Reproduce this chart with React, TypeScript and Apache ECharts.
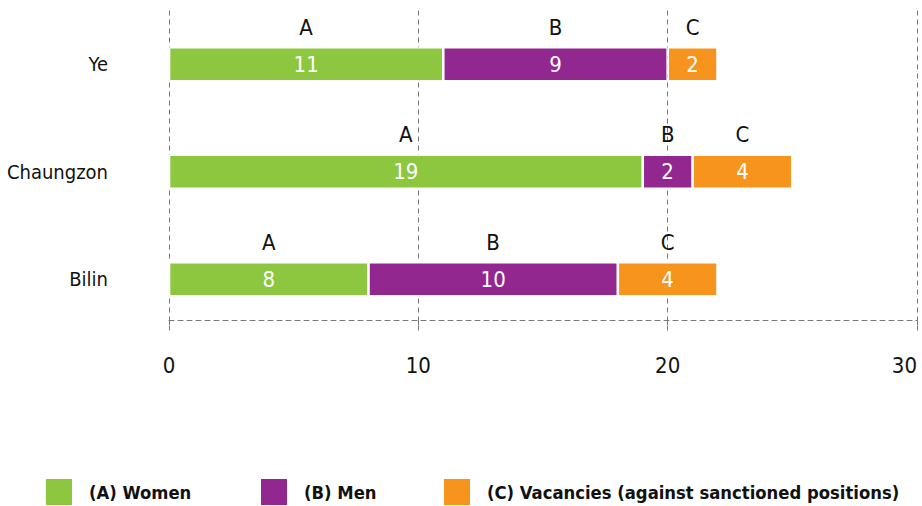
import React, { useEffect, useRef } from "react";
import * as echarts from "echarts";

const categories = ["Ye", "Chaungzon", "Bilin"];
const women = [11, 19, 8];
const men = [9, 2, 10];
const vacancies = [2, 4, 4];
const seriesNames = ["(A) Women", "(B) Men", "(C) Vacancies (against sanctioned positions)"];
const seriesLetters = ["A", "B", "C"];
const xTicks = { min: 0, max: 30, interval: 10 };

const FONT = "'DejaVu Sans Condensed', 'Liberation Sans Narrow', sans-serif";
const COLORS = ["#8dc63f", "#92278f", "#f7941d"];

export default function App() {
  const ref = useRef<HTMLDivElement>(null);
  useEffect(() => {
    document.body.style.margin = "0";
    const chart = echarts.init(ref.current!, null, { renderer: "svg" });
    const values = [women, men, vacancies];
    const series = values.map((vals, i) => ({
      name: seriesNames[i],
      type: "bar",
      stack: "total",
      barWidth: 34,
      data: vals,
      itemStyle: { color: COLORS[i], borderColor: "#fff", borderWidth: 1.3 },
      label: {
        show: true,
        position: "inside",
        formatter: (p: any) => `{t|${seriesLetters[i]}}\n{v|${p.value}}\n{e| }`,
        rich: {
          t: { color: "#111", fontSize: 22, lineHeight: 37, fontFamily: FONT },
          v: { color: "#fff", fontSize: 22, lineHeight: 37, fontFamily: FONT },
          e: { fontSize: 22, lineHeight: 37, fontFamily: FONT },
        },
      },
    }));
    const legendLefts = [44, 259, 442];
    const legend = seriesNames.map((n, i) => ({
      data: [n],
      left: legendLefts[i],
      top: 477,
      itemWidth: 28,
      itemHeight: 28,
      icon: "rect",
      selectedMode: false,
      padding: 0,
      textStyle: {
        fontFamily: FONT,
        fontWeight: "bold",
        fontSize: 18.3,
        color: "#111",
        padding: [0, 0, 0, 11],
      },
    }));
    chart.setOption({
      animation: false,
      color: COLORS,
      legend,
      grid: {
        left: 169,
        right: 5,
        top: 10.5,
        bottom: 173,
        containLabel: false,
        outerBoundsMode: "none",
      },
      xAxis: {
        type: "value",
        min: xTicks.min,
        max: xTicks.max,
        interval: xTicks.interval,
        offset: -13,
        axisLine: { show: true, lineStyle: { color: "#777", type: [5, 4], width: 1 } },
        axisTick: { show: true, length: 8, lineStyle: { color: "#777", type: [5, 4] } },
        splitLine: { show: true, lineStyle: { color: "#777", type: [5, 4], width: 1 } },
        axisLabel: {
          color: "#111",
          fontSize: 22,
          fontFamily: FONT,
          margin: 34,
          alignMaxLabel: "right",
        },
      },
      yAxis: {
        type: "category",
        inverse: true,
        data: categories,
        axisLine: { show: false },
        axisTick: { show: false },
        axisLabel: { color: "#111", fontSize: 20, fontFamily: FONT, margin: 61 },
      },
      series,
    });
    return () => chart.dispose();
  }, []);
  return <div ref={ref} style={{ width: 922, height: 506 }} />;
}
